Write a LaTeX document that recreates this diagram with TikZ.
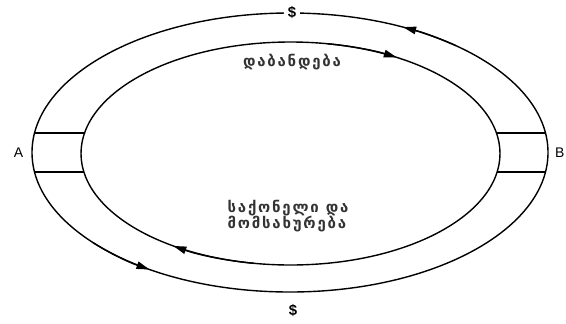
\documentclass[tikz,border=0pt]{standalone}
\usepackage{fontspec}
\setmainfont{Liberation Sans}
\newfontfamily\geo[LetterSpace=12]{DejaVu Sans}
\usetikzlibrary{arrows.meta}
\begin{document}
\begin{tikzpicture}[x=1bp,y=-1bp, line width=1.4bp,
  ring/.style={draw=black},
  tipc/.style={-{Triangle[length=13bp,width=7.5bp]}},
  lbl/.style={font=\fontsize{14}{16}\selectfont, inner sep=1bp},
  dollar/.style={font=\bfseries\fontsize{15}{17}\selectfont, inner xsep=3.5bp, inner ysep=0bp},
  geotext/.style={font=\geo\bfseries\fontsize{15}{16}\selectfont, text=black!80, inner sep=1bp},
]
\clip (0,0) rectangle (566,323);
\fill[white] (0,0) rectangle (566,323);
\coordinate (oc) at (290,152.5);
\coordinate (ic) at (290.5,153.5);
% rings
\draw[ring] (oc) ellipse [x radius=258, y radius=139.5];
\draw[ring] (ic) ellipse [x radius=209.5, y radius=111.5];
% flow arrows
\draw[tipc] (oc) ++(-50:258 and 139.5) arc[start angle=-50, end angle=-64, x radius=258, y radius=139.5];
\draw[tipc] (oc) ++(140:258 and 139.5) arc[start angle=140, end angle=123, x radius=258, y radius=139.5];
\draw[tipc] (ic) ++(-80:209.5 and 111.5) arc[start angle=-80, end angle=-59.5, x radius=209.5, y radius=111.5];
\draw[tipc] (ic) ++(100:209.5 and 111.5) arc[start angle=100, end angle=124, x radius=209.5, y radius=111.5];
% boxes A and B
\draw (34.5,133) -- (84.5,133);
\draw (34.3,172) -- (83.9,172);
\draw (545.5,133) -- (496.5,133);
\draw (545.7,172) -- (497.1,172);
% labels
\node[lbl] (A) at (18.5,153) {A};
\node[lbl, anchor=east] (B) at (566,153) {B};
\node[dollar, fill=white] (d1) at (292,13) {\$};
\node[dollar] (d2) at (293,310) {\$};
\node[geotext] (inv) at (292,62) {დაბანდება};
\node[geotext, align=left, anchor=west] (gs) at (226,216) {საქონელი და\\მომსახურება};
\end{tikzpicture}
\end{document}
